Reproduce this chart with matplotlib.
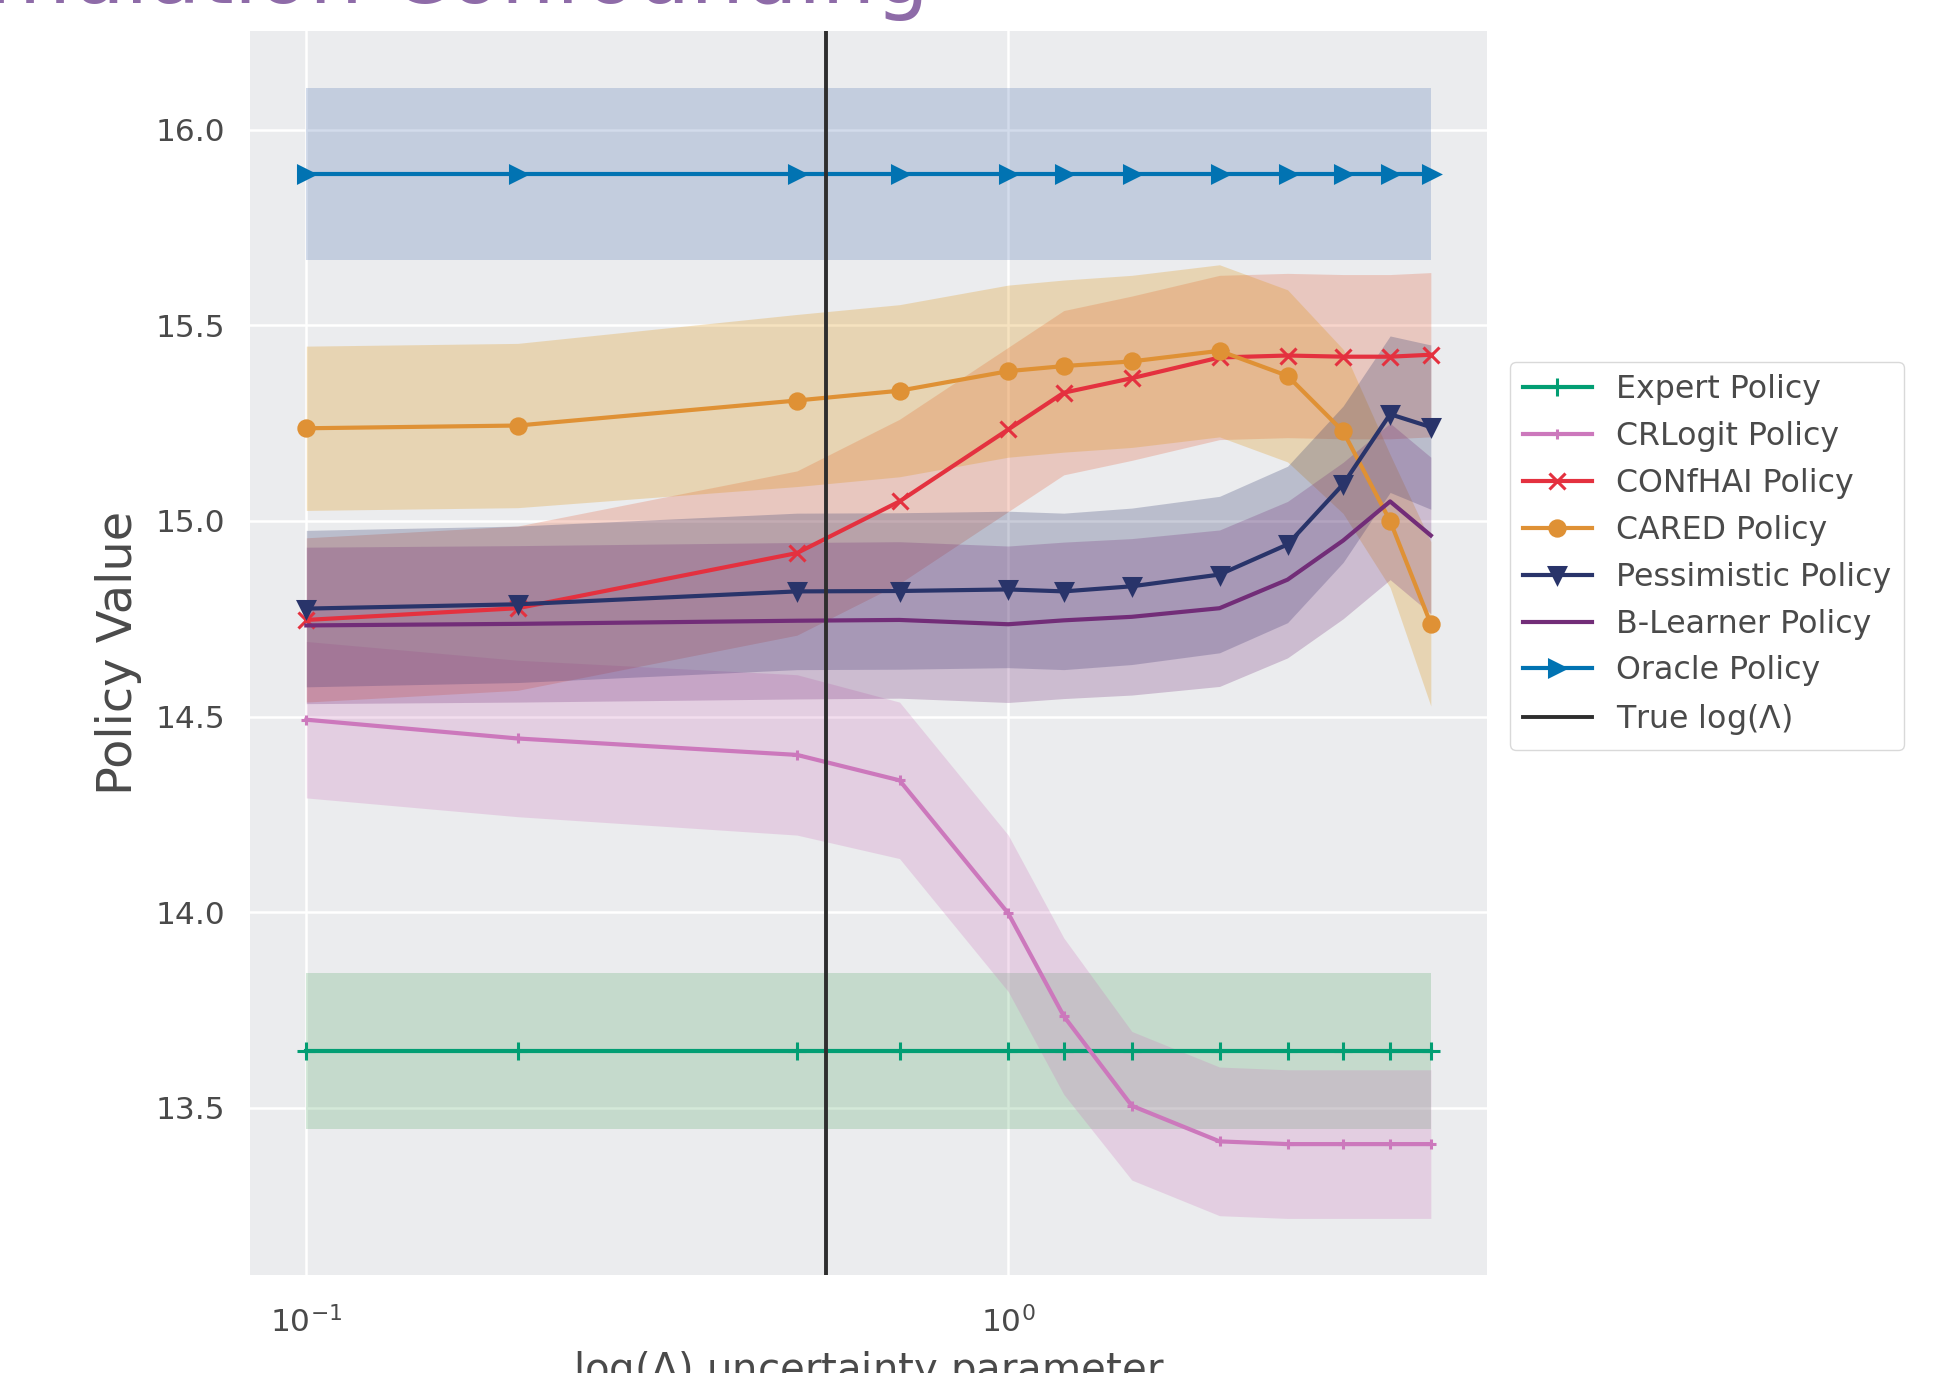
import matplotlib.pyplot as plt
from matplotlib.ticker import FormatStrFormatter

# uncertainty parameter grid (log-scaled x axis)
lambdas = [0.1, 0.2, 0.5, 0.7, 1.0, 1.2, 1.5, 2.0, 2.5, 3.0, 3.5, 4.0]
true_log_lambda = 0.55

# policy values: mean and band half-width per lambda
expert_mean = [13.645, 13.645, 13.645, 13.645, 13.645, 13.645, 13.645, 13.645, 13.645, 13.645, 13.645, 13.645]
expert_std = [0.20, 0.20, 0.20, 0.20, 0.20, 0.20, 0.20, 0.20, 0.20, 0.20, 0.20, 0.20]

crlogit_mean = [14.492, 14.444, 14.402, 14.337, 13.997, 13.734, 13.505, 13.414, 13.407, 13.407, 13.407, 13.407]
crlogit_std = [0.20, 0.20, 0.205, 0.20, 0.20, 0.20, 0.19, 0.19, 0.19, 0.19, 0.19, 0.19]

confhai_mean = [14.747, 14.777, 14.918, 15.050, 15.234, 15.328, 15.365, 15.418, 15.423, 15.420, 15.420, 15.425]
confhai_std = [0.21, 0.21, 0.21, 0.21, 0.21, 0.21, 0.21, 0.21, 0.21, 0.21, 0.21, 0.21]

cared_mean = [15.237, 15.244, 15.308, 15.333, 15.383, 15.396, 15.408, 15.435, 15.371, 15.229, 15.000, 14.737]
cared_std = [0.21, 0.21, 0.22, 0.22, 0.22, 0.22, 0.22, 0.22, 0.22, 0.21, 0.17, 0.21]

pess_mean = [14.776, 14.787, 14.820, 14.821, 14.825, 14.820, 14.833, 14.863, 14.940, 15.094, 15.273, 15.240]
pess_std = [0.20, 0.20, 0.20, 0.20, 0.20, 0.20, 0.20, 0.20, 0.20, 0.20, 0.20, 0.21]

blearner_mean = [14.733, 14.737, 14.745, 14.747, 14.736, 14.746, 14.755, 14.777, 14.850, 14.950, 15.050, 14.963]
blearner_std = [0.20, 0.20, 0.20, 0.20, 0.20, 0.20, 0.20, 0.20, 0.20, 0.20, 0.20, 0.20]

oracle_mean = [15.888, 15.888, 15.888, 15.888, 15.888, 15.888, 15.888, 15.888, 15.888, 15.888, 15.888, 15.888]
oracle_std = [0.22, 0.22, 0.22, 0.22, 0.22, 0.22, 0.22, 0.22, 0.22, 0.22, 0.22, 0.22]

labels = ["Expert Policy", "CRLogit Policy", "CONfHAI Policy", "CARED Policy",
          "Pessimistic Policy", "B-Learner Policy", "Oracle Policy"]
means = [expert_mean, crlogit_mean, confhai_mean, cared_mean, pess_mean, blearner_mean, oracle_mean]
stds = [expert_std, crlogit_std, confhai_std, cared_std, pess_std, blearner_std, oracle_std]
line_colors = ["#029e73", "#cc78bc", "#e4313f", "#df9135", "#29346a", "#722d78", "#0173b2"]
band_colors = ["#55a868", "#cc78bc", "#e35a35", "#de8f05", "#29346a", "#722d78", "#4c72b0"]
markers = ["+", "+", "x", "o", "v", ">", ">"]
marker_sizes = [13, 7, 12, 11, 11, 0, 11]

text_color = "#4a4a4a"

fig = plt.figure(figsize=(19.6, 13.73), dpi=100)
ax = fig.add_axes([0.1276, 0.0714, 0.6311, 0.906])
ax.set_xscale("log")
ax.set_facecolor("#ebecee")
for s in ax.spines.values():
    s.set_visible(False)
ax.grid(True, which="major", color="white", linewidth=1.8)
ax.set_axisbelow(True)

# shaded bands first, lines on top
for i in range(len(labels)):
    m = means[i]
    sd = stds[i]
    lo = [a - b for a, b in zip(m, sd)]
    hi = [a + b for a, b in zip(m, sd)]
    ax.fill_between(lambdas, lo, hi, color=band_colors[i], alpha=0.25, linewidth=0, zorder=1)

for i in range(len(labels)):
    ax.plot(lambdas, means[i], color=line_colors[i], marker=markers[i],
            markersize=marker_sizes[i], markeredgewidth=2.2, linewidth=3.0,
            label=labels[i], zorder=3)

ax.axvline(true_log_lambda, color="#2e2e2e", linewidth=2.8, label=r"True log($\Lambda$)", zorder=4)

ax.set_yticks([13.5, 14.0, 14.5, 15.0, 15.5, 16.0])
ax.yaxis.set_major_formatter(FormatStrFormatter("%.1f"))
ax.tick_params(axis="both", which="both", length=0, labelsize=22.5, colors=text_color)
ax.tick_params(axis="y", pad=18)
ax.tick_params(axis="x", pad=22)
ax.minorticks_off()

ax.set_ylabel("Policy Value", fontsize=34.5, color=text_color, labelpad=9.5)
ax.set_xlabel(r"log($\Lambda$) uncertainty parameter", fontsize=29, color=text_color, labelpad=8)

handles, labs = ax.get_legend_handles_labels()
leg = fig.legend(handles, labs, loc="upper left", bbox_to_anchor=(0.7623, 0.748),
                 fontsize=22.8, frameon=True, facecolor="white", edgecolor="#d0d0d0",
                 labelspacing=0.5, handlelength=2.2, handletextpad=0.75, borderpad=0.4)
for t in leg.get_texts():
    t.set_color(text_color)

# slide title, cut off by the top edge of the screenshot
fig.text(0.474, 0.9978, "Simulation Confounding", ha="right", va="baseline",
         fontsize=61, color="#8e6ba8")

fig.savefig("out.png", dpi=100)
